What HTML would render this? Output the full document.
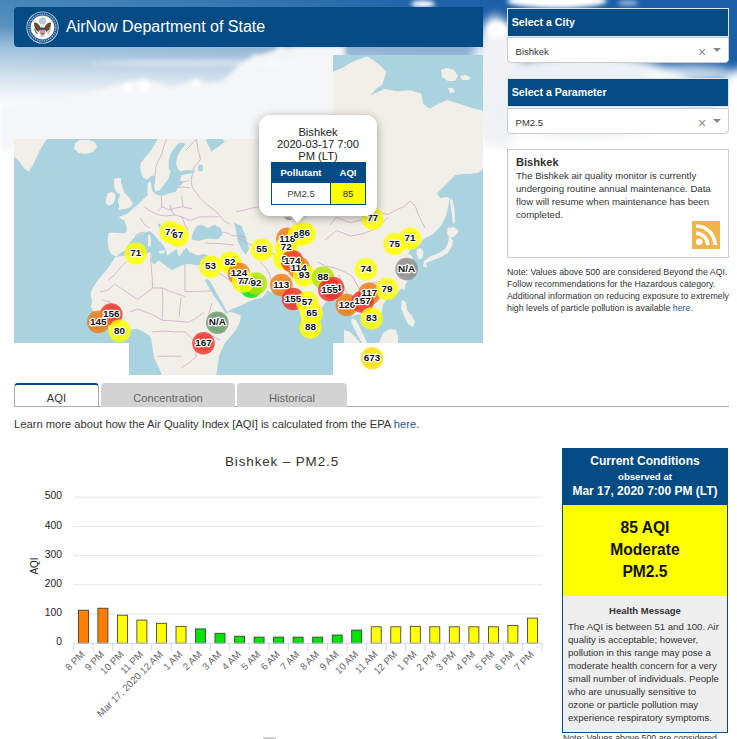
<!DOCTYPE html>
<html><head><meta charset="utf-8">
<style>
*{box-sizing:border-box;margin:0;padding:0}
html,body{width:737px;height:739px;overflow:hidden;background:#fff}
body{position:relative;font-family:"Liberation Sans",sans-serif;color:#333}
.abs{position:absolute}
#sky{position:absolute;left:0;top:0;width:737px;height:300px;
 background:linear-gradient(to bottom,#4a86b9 0px,#5f93c2 30px,#8db2d8 55px,#c4d7ea 80px,#e9f0f8 105px,#fbfcfe 130px,#fff 150px)}
.cloud{position:absolute;border-radius:50%;background:#fff;filter:blur(6px)}
#hdr{left:14px;top:7px;width:469px;height:40px;background:#034b84;border-radius:4px 0 0 4px}
#hdr .t{position:absolute;left:52px;top:9.7px;font-size:16px;color:#fff;white-space:nowrap;line-height:20px}
.ph{position:absolute;left:507px;width:222px;height:29px;background:#034b84;border:1px solid #dde6ef;color:#fff;font-weight:bold;font-size:10.6px;padding:7.3px 0 0 3.8px;white-space:nowrap}
.sel{position:absolute;left:507px;width:222px;height:26px;background:#fff;border:1px solid #ccc;border-radius:0 0 4px 4px;font-size:9.5px;color:#333;padding:7.8px 0 0 7.6px}
.sel .x{position:absolute;left:190px;top:5.5px;font-size:14px;line-height:16px;color:#8a8a8a}
.sel .ar{position:absolute;left:205px;top:10px;width:0;height:0;border-left:4px solid transparent;border-right:4px solid transparent;border-top:4px solid #888}
#info{left:507px;top:149px;width:222px;height:109px;background:#fff;border:1px solid #ccc;padding:6px 0 0 8px;font-size:9.6px;line-height:13px;color:#333}
#info b{font-size:11.1px;line-height:13px;display:block}
#rss{left:692px;top:221px;width:28px;height:28px;background:#efb44a;border-radius:1px}
#note{left:507px;top:266px;width:230px;font-size:8.8px;line-height:12px;color:#333}
a{color:#1f5a98;text-decoration:none}
.tab{position:absolute;top:383px;height:24px;background:#d3d3d3;border-radius:4px 4px 0 0;font-size:11.2px;color:#666;text-align:center;padding-top:8.5px}
#learn{left:14px;top:418px;font-size:11.2px;color:#333;white-space:nowrap}
#pop{left:259px;top:115px;width:118px;height:108px}
#pop .box{position:absolute;left:0;top:0;width:118px;height:101px;background:#fff;border-radius:11px;box-shadow:0 2px 10px rgba(0,0,0,.35)}
#pop .tipc{position:absolute;left:20px;top:101px;width:36px;height:10px;overflow:hidden}
#pop .tip{position:absolute;left:11px;top:-7px;width:14px;height:14px;background:#fff;transform:rotate(45deg);box-shadow:0 2px 10px rgba(0,0,0,.35)}
#pop .l1{position:absolute;left:0;top:11px;width:118px;text-align:center;font-size:11.2px;line-height:12.2px;color:#222}
#pop table{position:absolute;left:12px;top:47px;width:95px;border-collapse:collapse;font-size:9.6px}
#pop th{background:#034b84;color:#fff;height:20px;border:1px solid #034b84;font-weight:bold}
#pop td{height:22px;border:1px solid #034b84;text-align:center;color:#444;background:#fff}
#cc{left:562px;top:448px;width:166px;height:285px;border:1px solid #034b84;background:#eee}
#cc .top{position:absolute;left:0;top:0;width:164px;height:56px;background:#034b84;color:#fff;text-align:center;font-weight:bold}
#cc .yel{position:absolute;left:0;top:56px;width:164px;height:91px;background:#ffff00;color:#111;text-align:center;font-weight:bold;font-size:15.6px;line-height:22px;padding-top:12px}
#cc .hm{position:absolute;left:0;top:147px;width:164px;padding:8px 5px 0 5px;font-size:9.6px;line-height:13px;color:#333}
</style></head><body>
<svg class="abs" style="left:0;top:0" width="737" height="260" viewBox="0 0 737 260">
<defs>
<linearGradient id="sk" x1="0" y1="0" x2="1" y2="0"><stop offset="0" stop-color="#4686b8"/><stop offset=".35" stop-color="#3374b0"/><stop offset=".6" stop-color="#1c60a8"/><stop offset="1" stop-color="#1a5ea7"/></linearGradient>
<linearGradient id="fw" x1="0" y1="0" x2="0" y2="1"><stop offset="0" stop-color="#fff" stop-opacity="0"/><stop offset=".1" stop-color="#fff" stop-opacity="0.1"/><stop offset=".18" stop-color="#fff" stop-opacity="0.47"/><stop offset=".27" stop-color="#fff" stop-opacity="0.7"/><stop offset=".35" stop-color="#fff" stop-opacity="0.88"/><stop offset=".42" stop-color="#fff" stop-opacity="1"/></linearGradient>
<linearGradient id="fw2" x1="0" y1="0" x2="0" y2="1"><stop offset="0" stop-color="#fff" stop-opacity="0"/><stop offset=".3" stop-color="#fff" stop-opacity="0"/><stop offset=".42" stop-color="#fff" stop-opacity="0.85"/><stop offset=".5" stop-color="#fff" stop-opacity="1"/></linearGradient>
<filter id="bl" x="-50%" y="-50%" width="200%" height="200%"><feGaussianBlur stdDeviation="5"/></filter>
<filter id="bl2" x="-50%" y="-50%" width="200%" height="200%"><feGaussianBlur stdDeviation="2"/></filter>
</defs>
<rect x="0" y="0" width="737" height="260" fill="url(#sk)"/>
<rect x="0" y="0" width="480" height="260" fill="url(#fw)"/>
<rect x="480" y="0" width="257" height="260" fill="url(#fw2)"/>
<g filter="url(#bl2)" fill="#fff">
<path fill="#f5f6f8" d="M0 106 L14 103 L57 99 L101 90 L127 82 L144 79.6 L160 84 L170 88 L185 84 L196 79.6 L205 84 L222 82 L232 72 L240 64 L257 56 L279 49 L300 46 L345 46 L345 150 L0 150 Z"/>
<circle cx="144" cy="85" r="6"/><circle cx="128" cy="87" r="5"/><circle cx="196" cy="83" r="4"/><circle cx="257" cy="63" r="9" fill="#f3f4f6"/><circle cx="282" cy="55" r="9" fill="#f3f4f6"/>
<ellipse cx="200" cy="63" rx="110" ry="3.5" fill-opacity="0.35"/>
</g>
<g filter="url(#bl)" fill="#fff">
<ellipse cx="497" cy="84" rx="26" ry="62" fill="#f0f2f5"/>
<rect x="481" y="22" width="34" height="125" rx="10" fill="#eff2f5"/>
<ellipse cx="585" cy="96" rx="110" ry="42" fill="#eef1f4"/>
<ellipse cx="748" cy="125" rx="35" ry="58"/>
<ellipse cx="690" cy="74" rx="45" ry="9" fill-opacity="0.75"/>
<ellipse cx="495" cy="60" rx="18" ry="45" fill="#f0f2f5"/>
</g>
<g filter="url(#bl2)" fill="#fff">
<ellipse cx="423" cy="4" rx="12" ry="3.5"/>
<ellipse cx="557" cy="1" rx="50" ry="7"/>
<ellipse cx="628" cy="3" rx="10" ry="2.5" fill-opacity="0.6"/>
<ellipse cx="497" cy="30" rx="10" ry="8"/>
</g>
</svg>
<svg class="abs" style="left:0;top:0" width="737" height="739" viewBox="0 0 737 739">
<defs><clipPath id="tc"><rect x="14" y="139" width="115" height="204"/><rect x="129" y="139" width="204" height="236"/><rect x="333" y="55" width="150" height="288"/></clipPath></defs>
<g clip-path="url(#tc)">
<rect x="0" y="0" width="737" height="400" fill="#f2efe9"/>
<path d="M47.0 139.0 L157.8 139.0 L151.7 149.6 L144.9 157.7 L140.9 163.1 L140.2 167.2 L141.5 174.0 L143.6 178.1 L147.0 179.4 L150.4 176.7 L152.4 175.3 L154.4 176.7 L153.7 182.0 L154.4 187.6 L155.5 191.5 L153.0 192.5 L151.5 188.0 L151.0 183.0 L149.5 181.5 L148.0 183.0 L147.5 188.0 L147.6 194.3 L148.0 195.2 L144.0 198.5 L138.3 204.2 L134.2 207.5 L126.9 214.0 L119.5 216.4 L119.5 218.0 L124.4 220.5 L126.1 225.4 L126.9 230.0 L125.0 233.3 L118.0 233.0 L112.0 232.8 L108.7 232.8 L107.6 240.4 L108.7 249.1 L110.9 253.4 L114.1 255.6 L116.3 256.7 L115.0 257.5 L108.4 267.7 L98.7 279.0 L92.2 288.8 L90.5 293.7 L92.2 301.9 L90.5 306.8 L93.8 311.6 L98.7 318.1 L105.2 324.7 L111.7 331.2 L117.0 334.0 L122.0 333.0 L129.0 330.0 L136.3 328.8 L142.0 331.0 L149.3 335.4 L151.0 338.6 L152.6 348.4 L154.2 358.2 L159.0 368.0 L162.3 376.0 L14.0 376.0 L14.0 157.0 L18.0 160.0 L24.0 168.0 L28.7 171.6 L33.0 165.0 L40.0 150.0Z" fill="#aad3df" />
<path d="M116.3 256.7 L119.5 253.4 L125.0 250.2 L128.2 244.7 L132.6 239.3 L135.8 236.0 L139.1 234.4 L143.4 233.3 L146.7 231.7 L150.0 231.2 L154.3 235.0 L158.6 240.4 L163.0 244.7 L165.1 248.0 L166.2 251.3 L167.0 255.6 L171.9 252.3 L176.8 249.0 L178.4 255.6 L180.0 256.0 L183.3 250.7 L186.5 247.4 L189.8 252.3 L197.9 255.6 L204.4 254.0 L207.7 255.6 L206.0 258.8 L204.4 263.7 L197.9 265.4 L188.2 263.7 L181.6 265.4 L171.9 270.2 L165.4 265.4 L158.8 260.5 L154.3 264.3 L151.0 261.0 L152.1 255.6 L150.0 252.3 L146.7 253.4 L135.8 255.6 L126.0 255.6 L117.4 256.7Z" fill="#aad3df" />
<path d="M157.5 223.5 L160.0 224.0 L163.0 229.0 L167.0 234.0 L172.0 239.0 L176.0 244.0 L174.0 246.0 L170.4 241.7 L165.0 236.3 L160.9 230.9 L158.2 225.0Z" fill="#aad3df" />
<path d="M191.4 239.3 L193.0 232.8 L196.3 226.3 L201.2 224.7 L207.7 227.9 L214.2 224.7 L220.7 227.9 L222.3 234.4 L217.5 239.3 L207.7 238.5 L197.9 240.9Z" fill="#aad3df" />
<path d="M234.0 222.4 L241.6 226.2 L245.4 235.7 L249.2 249.0 L245.4 254.7 L241.6 249.0 L237.8 241.4 L235.9 230.0Z" fill="#aad3df" />
<path d="M177.5 144.1 L170.7 153.6 L168.7 160.4 L168.7 168.6 L170.7 171.3 L168.0 179.4 L163.9 184.8 L159.9 190.3 L155.8 191.6 L154.0 193.0 L157.0 195.0 L162.6 195.7 L170.7 193.0 L176.1 191.6 L177.5 187.6 L181.6 184.8 L182.9 182.1 L180.2 180.8 L181.6 175.3 L187.0 174.0 L193.8 173.3 L195.1 170.6 L187.0 170.0 L180.2 171.3 L177.5 168.6 L176.1 163.1 L177.5 156.4 L180.2 150.9 L185.6 144.1 L182.0 142.5Z" fill="#aad3df" />
<path d="M206.0 139.0 L222.3 139.0 L225.0 141.4 L218.2 146.9 L214.1 149.6 L211.4 152.3 L210.0 148.2 L207.3 144.1Z" fill="#aad3df" />
<path d="M207.0 279.0 L210.0 281.0 L216.0 292.0 L222.0 302.0 L226.0 310.0 L228.0 313.0 L226.0 314.0 L221.0 306.0 L214.0 296.0 L208.0 286.0 L205.0 280.0Z" fill="#aad3df" />
<path d="M238.0 272.0 L244.0 276.0 L250.0 281.0 L256.0 285.0 L261.0 289.0 L255.0 290.0 L250.0 288.0 L244.0 283.0 L239.0 278.0Z" fill="#aad3df" />
<path d="M216.0 380.0 L216.3 374.5 L217.7 364.7 L219.3 354.9 L224.4 344.0 L230.0 337.0 L236.0 330.0 L240.0 322.0 L240.7 315.5 L236.0 313.5 L230.5 312.0 L226.0 313.0 L232.0 309.0 L240.0 306.0 L249.4 301.3 L257.0 299.0 L262.7 297.5 L266.0 293.0 L267.0 290.0 L270.0 292.0 L276.0 292.5 L282.0 293.0 L286.0 294.0 L289.3 295.6 L294.0 300.0 L298.8 307.0 L300.5 315.0 L302.6 322.2 L306.4 333.6 L310.0 338.5 L313.0 337.0 L316.0 328.0 L319.0 318.0 L322.0 307.3 L326.0 302.0 L330.0 299.0 L336.0 300.0 L342.0 302.0 L347.0 306.0 L350.0 311.0 L352.0 316.0 L356.0 315.0 L360.0 314.0 L364.0 318.0 L368.0 322.0 L372.0 324.0 L378.0 320.0 L382.0 312.0 L383.0 305.0 L386.0 300.0 L392.0 296.0 L397.0 293.0 L401.0 289.0 L405.0 284.4 L409.0 279.0 L411.3 274.0 L413.0 266.0 L413.4 261.3 L412.0 256.0 L408.0 253.0 L411.0 249.0 L415.0 247.0 L419.6 245.0 L422.8 239.7 L427.5 236.8 L433.2 234.0 L438.0 229.2 L441.8 224.5 L446.1 215.4 L448.4 206.1 L449.6 198.1 L446.1 196.9 L440.4 198.1 L436.9 193.4 L439.2 191.1 L446.1 184.2 L450.7 179.6 L455.4 175.0 L464.6 173.8 L471.5 173.8 L478.4 172.7 L482.5 169.2 L490.0 169.0 L490.0 380.0Z" fill="#aad3df" />
<path d="M333.0 55.0 L483.0 55.0 L483.0 110.8 L473.3 108.6 L460.0 104.0 L447.2 100.0 L438.0 104.0 L429.9 108.6 L423.4 104.3 L421.2 93.4 L410.3 90.2 L397.3 91.2 L384.3 89.1 L370.2 95.6 L376.0 89.0 L382.1 84.7 L386.4 71.7 L380.0 65.2 L373.0 60.0 L366.9 56.5 L360.4 58.7 L352.0 62.0 L343.0 67.4 L333.0 71.7Z" fill="#aad3df" />
<path d="M148.0 235.0 L150.0 234.5 L151.0 240.0 L150.5 246.5 L148.0 246.5 L147.8 240.0Z" fill="#f2efe9" />
<path d="M158.6 251.0 L165.0 250.0 L164.0 253.4 L160.0 253.4Z" fill="#f2efe9" />
<path d="M75.0 143.0 L80.0 140.0 L88.0 140.0 L95.0 142.0 L97.0 147.0 L93.0 152.0 L86.0 154.0 L79.0 153.0 L74.0 149.0Z" fill="#f2efe9" />
<path d="M114.0 179.0 L118.0 177.8 L121.2 178.5 L121.0 182.0 L122.0 186.0 L124.4 192.8 L129.3 197.7 L131.8 201.8 L132.6 204.2 L130.1 207.5 L124.4 209.1 L117.9 209.9 L119.5 207.0 L118.5 203.5 L117.9 200.9 L119.5 196.9 L120.4 194.4 L117.1 192.8 L115.5 190.4 L113.8 186.3 L114.5 182.0Z" fill="#f2efe9" />
<path d="M108.0 193.0 L112.0 192.0 L115.5 194.0 L115.0 199.0 L113.0 204.0 L108.0 205.8 L105.7 203.0 L106.5 197.0Z" fill="#f2efe9" />
<path d="M352.0 318.0 L356.0 320.0 L360.0 328.0 L364.0 336.0 L367.0 343.0 L362.0 343.0 L358.0 336.0 L354.0 328.0 L351.0 322.0Z" fill="#f2efe9" />
<path d="M344.0 330.0 L350.0 332.0 L356.0 338.0 L360.0 343.0 L344.0 343.0Z" fill="#f2efe9" />
<path d="M379.0 343.0 L383.0 333.0 L390.0 329.0 L396.0 330.0 L398.0 336.0 L398.0 343.0Z" fill="#f2efe9" />
<path d="M402.0 300.0 L406.0 302.0 L407.0 310.0 L412.0 316.0 L415.0 322.0 L413.0 327.0 L408.0 324.0 L404.0 316.0 L401.0 308.0Z" fill="#f2efe9" />
<path d="M403.0 283.0 L405.5 284.0 L404.5 290.0 L402.0 289.0Z" fill="#f2efe9" />
<path d="M449.0 237.0 L453.0 240.0 L452.0 246.0 L448.0 253.0 L441.0 257.0 L433.0 260.0 L426.0 263.0 L427.0 268.0 L423.0 266.0 L424.0 261.0 L431.0 256.0 L439.0 253.0 L445.0 249.0 L448.0 243.0Z" fill="#f2efe9" />
<path d="M447.5 228.0 L454.0 227.0 L459.0 231.0 L455.0 236.0 L450.0 238.0 L447.0 234.0Z" fill="#f2efe9" />
<path d="M417.0 249.0 L421.0 248.0 L423.5 252.0 L422.5 258.0 L419.0 259.6 L416.5 254.0Z" fill="#f2efe9" />
<path d="M450.7 198.0 L452.5 200.0 L454.5 210.0 L455.0 222.0 L453.0 224.0 L451.5 212.0 L450.0 202.0Z" fill="#f2efe9" />
<path d="M441.0 70.0 L447.0 68.0 L454.0 70.0 L458.0 76.0 L455.0 81.0 L448.0 81.0 L442.0 77.0Z" fill="#f2efe9" />
<path d="M460.0 76.0 L466.0 75.0 L471.0 78.0 L468.0 80.0 L462.0 80.0Z" fill="#f2efe9" />
<path d="M448.0 88.0 L453.0 88.0 L455.0 92.0 L450.0 93.0Z" fill="#f2efe9" />
<ellipse cx="200.5" cy="168" rx="2.5" ry="3.5" fill="#aad3df"/>
<g fill="none" stroke="#c6a3c8" stroke-width="0.8" stroke-opacity="0.9" stroke-linejoin="round">
<path d="M108.0 280.4 L114.7 274.7 L120.0 268.0 L126.0 261.4"/>
<path d="M100.0 292.0 L108.0 290.0 L114.7 284.2 L125.0 291.0 L137.5 299.4 L145.0 294.0 L152.7 288.0 L162.2 288.0"/>
<path d="M150.8 254.0 L150.8 261.4 L152.0 275.0 L152.7 288.0"/>
<path d="M185.0 265.0 L185.0 280.0 L185.0 291.8"/>
<path d="M185.0 291.8 L200.0 291.3 L211.6 290.8"/>
<path d="M162.2 288.0 L172.0 292.0 L185.0 296.5"/>
<path d="M181.2 297.5 L180.0 306.0 L179.3 316.5"/>
<path d="M130.0 312.0 L137.5 308.9 L145.0 312.0 L152.7 314.6 L162.2 320.3"/>
<path d="M162.2 320.3 L175.0 321.0 L188.8 322.2 L196.0 318.0 L204.0 312.7"/>
<path d="M152.0 331.7 L165.0 331.0 L175.0 332.0 L185.0 331.7 L194.5 341.2 L196.4 356.4 L190.0 362.0 L181.2 367.8"/>
<path d="M158.4 356.4 L170.0 356.0 L181.2 356.4"/>
<path d="M211.6 303.2 L210.0 310.0 L207.8 318.4 L215.0 330.0 L225.0 332.0"/>
<path d="M162.2 288.0 L163.0 300.0 L162.2 320.3"/>
<path d="M102.0 300.0 L110.0 302.0 L116.0 310.0 L122.0 318.0"/>
<path d="M196.4 340.0 L205.0 334.0 L212.0 336.0 L220.0 340.0"/>
<path d="M166.5 139.2 L164.0 146.0 L161.8 154.0 L158.0 161.0 L156.1 167.3 L155.0 175.0 L154.2 184.4"/>
<path d="M196.0 139.2 L190.0 146.0 L186.0 150.0"/>
<path d="M196.5 139.0 L197.8 149.6 L200.6 159.0 L196.0 165.0 L192.4 170.0"/>
<path d="M192.4 174.0 L191.0 180.8 L192.4 187.6 L200.6 198.4 L206.0 203.8 L216.8 212.0 L224.0 221.0 L230.2 224.3"/>
<path d="M161.2 195.7 L161.9 206.6 L158.0 211.0"/>
<path d="M161.9 206.6 L169.0 210.0 L176.0 208.0 L183.0 206.6"/>
<path d="M181.6 195.7 L183.0 206.6 L192.2 209.1"/>
<path d="M177.5 187.6 L183.0 187.0 L189.7 187.6"/>
<path d="M180.2 182.0 L185.0 181.5 L188.3 180.8"/>
<path d="M144.7 207.2 L150.0 211.0 L158.0 214.8 L166.0 216.0 L175.1 214.8 L182.0 217.0 L190.3 220.5 L199.8 216.7 L210.0 217.0 L218.8 216.7"/>
<path d="M135.2 235.7 L140.0 233.0 L144.7 231.9"/>
<path d="M140.0 218.0 L145.0 225.0 L150.0 228.0"/>
<path d="M170.0 205.0 L172.0 212.0 L175.1 214.8"/>
<path d="M182.0 217.0 L185.0 225.0 L188.0 230.0"/>
<path d="M205.0 243.0 L215.0 243.3 L225.0 244.0 L234.0 245.2"/>
<path d="M222.0 232.0 L228.0 233.0 L232.1 235.7 L240.0 236.0 L245.4 237.6"/>
<path d="M215.0 258.0 L222.0 262.0 L230.0 262.0 L238.0 268.0"/>
<path d="M213.0 270.0 L224.0 276.0 L233.0 283.0 L240.0 292.0 L250.0 297.0"/>
<path d="M236.3 211.7 L245.0 210.0 L252.0 208.0 L260.7 206.3"/>
<path d="M239.0 238.8 L247.0 243.0 L255.3 247.0 L262.0 250.0 L270.0 252.0"/>
<path d="M260.0 262.0 L266.0 268.0 L270.0 275.0 L272.0 285.0"/>
<path d="M270.0 252.0 L275.0 255.0 L280.0 262.0 L285.0 270.0"/>
<path d="M336.7 217.1 L343.0 220.0 L350.3 222.6 L361.1 219.9 L366.0 215.0 L372.0 211.7 L380.0 213.0 L388.2 214.4 L396.0 210.0 L404.5 206.3 L410.0 200.9 L415.4 206.3 L418.0 214.0 L422.0 222.0 L425.0 228.0"/>
<path d="M336.7 230.7 L343.0 233.0 L350.3 236.1 L363.8 233.4 L377.4 228.0 L388.2 217.1"/>
<path d="M330.0 225.0 L336.7 217.1"/>
<path d="M325.0 240.0 L336.7 230.7"/>
<path d="M318.0 262.0 L325.0 266.0 L335.0 268.0 L345.0 272.0 L352.0 276.0"/>
<path d="M352.0 276.0 L356.0 283.0 L360.0 290.0"/>
<path d="M339.0 275.0 L342.0 282.0 L345.0 290.0 L350.0 298.0"/>
<path d="M360.0 290.0 L366.0 285.0 L372.0 283.0 L380.0 282.0"/>
<path d="M355.0 300.0 L360.0 308.0 L362.0 314.0"/>
</g>
</g>
<g font-family="Liberation Sans" font-weight="bold" font-size="9.9" text-anchor="middle">
<circle cx="170.4" cy="232" r="11.3" fill="#ffff00" fill-opacity="0.78"/><circle cx="170.4" cy="232" r="9.3" fill="#ffff00" fill-opacity="0.35"/>
<circle cx="177.7" cy="235.6" r="11.3" fill="#ffff00" fill-opacity="0.78"/><circle cx="177.7" cy="235.6" r="9.3" fill="#ffff00" fill-opacity="0.35"/>
<circle cx="135.7" cy="253.5" r="11.3" fill="#ffff00" fill-opacity="0.78"/><circle cx="135.7" cy="253.5" r="9.3" fill="#ffff00" fill-opacity="0.35"/>
<circle cx="111.3" cy="314.5" r="11.3" fill="#ee3028" fill-opacity="0.78"/><circle cx="111.3" cy="314.5" r="9.3" fill="#ee3028" fill-opacity="0.35"/>
<circle cx="98.3" cy="321.9" r="11.3" fill="#f07a10" fill-opacity="0.78"/><circle cx="98.3" cy="321.9" r="9.3" fill="#f07a10" fill-opacity="0.35"/>
<circle cx="119.6" cy="330.9" r="11.3" fill="#ffff00" fill-opacity="0.78"/><circle cx="119.6" cy="330.9" r="9.3" fill="#ffff00" fill-opacity="0.35"/>
<circle cx="217.3" cy="322.7" r="11.3" fill="#6a9a6a" fill-opacity="0.78"/><circle cx="217.3" cy="322.7" r="9.3" fill="#6a9a6a" fill-opacity="0.35"/>
<circle cx="203.5" cy="343.2" r="11.3" fill="#ee3028" fill-opacity="0.78"/><circle cx="203.5" cy="343.2" r="9.3" fill="#ee3028" fill-opacity="0.35"/>
<circle cx="210.5" cy="266.8" r="11.3" fill="#ffff00" fill-opacity="0.78"/><circle cx="210.5" cy="266.8" r="9.3" fill="#ffff00" fill-opacity="0.35"/>
<circle cx="230.1" cy="262.7" r="11.3" fill="#ffff00" fill-opacity="0.78"/><circle cx="230.1" cy="262.7" r="9.3" fill="#ffff00" fill-opacity="0.35"/>
<circle cx="238.9" cy="273.8" r="11.3" fill="#f07a10" fill-opacity="0.78"/><circle cx="238.9" cy="273.8" r="9.3" fill="#f07a10" fill-opacity="0.35"/>
<circle cx="251.2" cy="286.8" r="11.3" fill="#00e400" fill-opacity="0.78"/><circle cx="251.2" cy="286.8" r="9.3" fill="#00e400" fill-opacity="0.35"/>
<circle cx="256" cy="283.6" r="11.3" fill="#b4e400" fill-opacity="0.78"/><circle cx="256" cy="283.6" r="9.3" fill="#b4e400" fill-opacity="0.35"/>
<circle cx="243.2" cy="281.4" r="11.3" fill="#ffff00" fill-opacity="0.78"/><circle cx="243.2" cy="281.4" r="9.3" fill="#ffff00" fill-opacity="0.35"/>
<circle cx="261.8" cy="249.8" r="11.3" fill="#ffff00" fill-opacity="0.78"/><circle cx="261.8" cy="249.8" r="9.3" fill="#ffff00" fill-opacity="0.35"/>
<circle cx="287.3" cy="238.9" r="11.3" fill="#f07a10" fill-opacity="0.78"/><circle cx="287.3" cy="238.9" r="9.3" fill="#f07a10" fill-opacity="0.35"/>
<circle cx="299" cy="235" r="11.3" fill="#ffff00" fill-opacity="0.78"/><circle cx="299" cy="235" r="9.3" fill="#ffff00" fill-opacity="0.35"/>
<circle cx="304.6" cy="233.5" r="11.3" fill="#ffff00" fill-opacity="0.78"/><circle cx="304.6" cy="233.5" r="9.3" fill="#ffff00" fill-opacity="0.35"/>
<circle cx="286.3" cy="247.4" r="11.3" fill="#ffff00" fill-opacity="0.78"/><circle cx="286.3" cy="247.4" r="9.3" fill="#ffff00" fill-opacity="0.35"/>
<circle cx="284.3" cy="259" r="11.3" fill="#ffff00" fill-opacity="0.78"/><circle cx="284.3" cy="259" r="9.3" fill="#ffff00" fill-opacity="0.35"/>
<circle cx="292.3" cy="261.2" r="11.3" fill="#ee3028" fill-opacity="0.78"/><circle cx="292.3" cy="261.2" r="9.3" fill="#ee3028" fill-opacity="0.35"/>
<circle cx="298.8" cy="268" r="11.3" fill="#f07a10" fill-opacity="0.78"/><circle cx="298.8" cy="268" r="9.3" fill="#f07a10" fill-opacity="0.35"/>
<circle cx="304.2" cy="275.6" r="11.3" fill="#ffff00" fill-opacity="0.78"/><circle cx="304.2" cy="275.6" r="9.3" fill="#ffff00" fill-opacity="0.35"/>
<circle cx="281.3" cy="285.1" r="11.3" fill="#f07a10" fill-opacity="0.78"/><circle cx="281.3" cy="285.1" r="9.3" fill="#f07a10" fill-opacity="0.35"/>
<circle cx="323.1" cy="277.8" r="11.3" fill="#b4e400" fill-opacity="0.78"/><circle cx="323.1" cy="277.8" r="9.3" fill="#b4e400" fill-opacity="0.35"/>
<circle cx="333" cy="288" r="11.3" fill="#ee3028" fill-opacity="0.78"/><circle cx="333" cy="288" r="9.3" fill="#ee3028" fill-opacity="0.35"/>
<circle cx="329.4" cy="290" r="11.3" fill="#ee3028" fill-opacity="0.78"/><circle cx="329.4" cy="290" r="9.3" fill="#ee3028" fill-opacity="0.35"/>
<circle cx="293.1" cy="299" r="11.3" fill="#ee3028" fill-opacity="0.78"/><circle cx="293.1" cy="299" r="9.3" fill="#ee3028" fill-opacity="0.35"/>
<circle cx="307.3" cy="302.4" r="11.3" fill="#ffff00" fill-opacity="0.78"/><circle cx="307.3" cy="302.4" r="9.3" fill="#ffff00" fill-opacity="0.35"/>
<circle cx="311.7" cy="313.6" r="11.3" fill="#ffff00" fill-opacity="0.78"/><circle cx="311.7" cy="313.6" r="9.3" fill="#ffff00" fill-opacity="0.35"/>
<circle cx="310.5" cy="327.6" r="11.3" fill="#ffff00" fill-opacity="0.78"/><circle cx="310.5" cy="327.6" r="9.3" fill="#ffff00" fill-opacity="0.35"/>
<circle cx="346.9" cy="305" r="11.3" fill="#f07a10" fill-opacity="0.78"/><circle cx="346.9" cy="305" r="9.3" fill="#f07a10" fill-opacity="0.35"/>
<circle cx="369.3" cy="293.8" r="11.3" fill="#f07a10" fill-opacity="0.78"/><circle cx="369.3" cy="293.8" r="9.3" fill="#f07a10" fill-opacity="0.35"/>
<circle cx="362.6" cy="301.7" r="11.3" fill="#ee3028" fill-opacity="0.78"/><circle cx="362.6" cy="301.7" r="9.3" fill="#ee3028" fill-opacity="0.35"/>
<circle cx="387" cy="288.9" r="11.3" fill="#ffff00" fill-opacity="0.78"/><circle cx="387" cy="288.9" r="9.3" fill="#ffff00" fill-opacity="0.35"/>
<circle cx="371.6" cy="318.6" r="11.3" fill="#ffff00" fill-opacity="0.78"/><circle cx="371.6" cy="318.6" r="9.3" fill="#ffff00" fill-opacity="0.35"/>
<circle cx="366" cy="269.3" r="11.3" fill="#ffff00" fill-opacity="0.78"/><circle cx="366" cy="269.3" r="9.3" fill="#ffff00" fill-opacity="0.35"/>
<circle cx="406.6" cy="269.1" r="11.3" fill="#8a8a8a" fill-opacity="0.78"/><circle cx="406.6" cy="269.1" r="9.3" fill="#8a8a8a" fill-opacity="0.35"/>
<circle cx="394.6" cy="244" r="11.3" fill="#ffff00" fill-opacity="0.78"/><circle cx="394.6" cy="244" r="9.3" fill="#ffff00" fill-opacity="0.35"/>
<circle cx="410" cy="238.7" r="11.3" fill="#ffff00" fill-opacity="0.78"/><circle cx="410" cy="238.7" r="9.3" fill="#ffff00" fill-opacity="0.35"/>
<circle cx="372.7" cy="218.7" r="11.3" fill="#ffff00" fill-opacity="0.78"/><circle cx="372.7" cy="218.7" r="9.3" fill="#ffff00" fill-opacity="0.35"/>
<circle cx="372.1" cy="358.2" r="11.3" fill="#ffe000" fill-opacity="0.78"/><circle cx="372.1" cy="358.2" r="9.3" fill="#ffe000" fill-opacity="0.35"/>
<text x="170.4" y="234.6" stroke="#fff" stroke-width="2.4" stroke-linejoin="round" fill="#fff">74</text><text x="170.4" y="234.6" fill="#111">74</text>
<text x="177.7" y="238.2" stroke="#fff" stroke-width="2.4" stroke-linejoin="round" fill="#fff">67</text><text x="177.7" y="238.2" fill="#111">67</text>
<text x="135.7" y="256.1" stroke="#fff" stroke-width="2.4" stroke-linejoin="round" fill="#fff">71</text><text x="135.7" y="256.1" fill="#111">71</text>
<text x="111.3" y="317.1" stroke="#fff" stroke-width="2.4" stroke-linejoin="round" fill="#fff">156</text><text x="111.3" y="317.1" fill="#111">156</text>
<text x="98.3" y="324.5" stroke="#fff" stroke-width="2.4" stroke-linejoin="round" fill="#fff">145</text><text x="98.3" y="324.5" fill="#111">145</text>
<text x="119.6" y="333.5" stroke="#fff" stroke-width="2.4" stroke-linejoin="round" fill="#fff">80</text><text x="119.6" y="333.5" fill="#111">80</text>
<text x="217.3" y="325.3" stroke="#fff" stroke-width="2.4" stroke-linejoin="round" fill="#fff">N/A</text><text x="217.3" y="325.3" fill="#111">N/A</text>
<text x="203.5" y="345.8" stroke="#fff" stroke-width="2.4" stroke-linejoin="round" fill="#fff">167</text><text x="203.5" y="345.8" fill="#111">167</text>
<text x="210.5" y="269.40000000000003" stroke="#fff" stroke-width="2.4" stroke-linejoin="round" fill="#fff">53</text><text x="210.5" y="269.40000000000003" fill="#111">53</text>
<text x="230.1" y="265.3" stroke="#fff" stroke-width="2.4" stroke-linejoin="round" fill="#fff">82</text><text x="230.1" y="265.3" fill="#111">82</text>
<text x="238.9" y="276.40000000000003" stroke="#fff" stroke-width="2.4" stroke-linejoin="round" fill="#fff">124</text><text x="238.9" y="276.40000000000003" fill="#111">124</text>
<text x="246.6" y="284.0" stroke="#fff" stroke-width="2.4" stroke-linejoin="round" fill="#fff">N/A</text><text x="246.6" y="284.0" fill="#111">N/A</text>
<text x="256" y="286.20000000000005" stroke="#fff" stroke-width="2.4" stroke-linejoin="round" fill="#fff">92</text><text x="256" y="286.20000000000005" fill="#111">92</text>
<text x="243.2" y="284.0" stroke="#fff" stroke-width="2.4" stroke-linejoin="round" fill="#fff">77</text><text x="243.2" y="284.0" fill="#111">77</text>
<text x="261.8" y="252.4" stroke="#fff" stroke-width="2.4" stroke-linejoin="round" fill="#fff">55</text><text x="261.8" y="252.4" fill="#111">55</text>
<text x="287.3" y="241.5" stroke="#fff" stroke-width="2.4" stroke-linejoin="round" fill="#fff">118</text><text x="287.3" y="241.5" fill="#111">118</text>
<text x="299" y="237.6" stroke="#fff" stroke-width="2.4" stroke-linejoin="round" fill="#fff">88</text><text x="299" y="237.6" fill="#111">88</text>
<text x="304.6" y="236.1" stroke="#fff" stroke-width="2.4" stroke-linejoin="round" fill="#fff">86</text><text x="304.6" y="236.1" fill="#111">86</text>
<text x="286.3" y="250.0" stroke="#fff" stroke-width="2.4" stroke-linejoin="round" fill="#fff">72</text><text x="286.3" y="250.0" fill="#111">72</text>
<text x="284.3" y="261.6" stroke="#fff" stroke-width="2.4" stroke-linejoin="round" fill="#fff">9</text><text x="284.3" y="261.6" fill="#111">9</text>
<text x="292.3" y="263.8" stroke="#fff" stroke-width="2.4" stroke-linejoin="round" fill="#fff">174</text><text x="292.3" y="263.8" fill="#111">174</text>
<text x="298.8" y="270.6" stroke="#fff" stroke-width="2.4" stroke-linejoin="round" fill="#fff">114</text><text x="298.8" y="270.6" fill="#111">114</text>
<text x="304.2" y="278.20000000000005" stroke="#fff" stroke-width="2.4" stroke-linejoin="round" fill="#fff">93</text><text x="304.2" y="278.20000000000005" fill="#111">93</text>
<text x="281.3" y="287.70000000000005" stroke="#fff" stroke-width="2.4" stroke-linejoin="round" fill="#fff">113</text><text x="281.3" y="287.70000000000005" fill="#111">113</text>
<text x="323.1" y="280.40000000000003" stroke="#fff" stroke-width="2.4" stroke-linejoin="round" fill="#fff">88</text><text x="323.1" y="280.40000000000003" fill="#111">88</text>
<text x="333" y="290.6" stroke="#fff" stroke-width="2.4" stroke-linejoin="round" fill="#fff">154</text><text x="333" y="290.6" fill="#111">154</text>
<text x="329.4" y="292.6" stroke="#fff" stroke-width="2.4" stroke-linejoin="round" fill="#fff">155</text><text x="329.4" y="292.6" fill="#111">155</text>
<text x="293.1" y="301.6" stroke="#fff" stroke-width="2.4" stroke-linejoin="round" fill="#fff">155</text><text x="293.1" y="301.6" fill="#111">155</text>
<text x="307.3" y="305.0" stroke="#fff" stroke-width="2.4" stroke-linejoin="round" fill="#fff">57</text><text x="307.3" y="305.0" fill="#111">57</text>
<text x="311.7" y="316.20000000000005" stroke="#fff" stroke-width="2.4" stroke-linejoin="round" fill="#fff">65</text><text x="311.7" y="316.20000000000005" fill="#111">65</text>
<text x="310.5" y="330.20000000000005" stroke="#fff" stroke-width="2.4" stroke-linejoin="round" fill="#fff">88</text><text x="310.5" y="330.20000000000005" fill="#111">88</text>
<text x="346.9" y="307.6" stroke="#fff" stroke-width="2.4" stroke-linejoin="round" fill="#fff">120</text><text x="346.9" y="307.6" fill="#111">120</text>
<text x="369.3" y="296.40000000000003" stroke="#fff" stroke-width="2.4" stroke-linejoin="round" fill="#fff">117</text><text x="369.3" y="296.40000000000003" fill="#111">117</text>
<text x="362.6" y="304.3" stroke="#fff" stroke-width="2.4" stroke-linejoin="round" fill="#fff">157</text><text x="362.6" y="304.3" fill="#111">157</text>
<text x="387" y="291.5" stroke="#fff" stroke-width="2.4" stroke-linejoin="round" fill="#fff">79</text><text x="387" y="291.5" fill="#111">79</text>
<text x="371.6" y="321.20000000000005" stroke="#fff" stroke-width="2.4" stroke-linejoin="round" fill="#fff">83</text><text x="371.6" y="321.20000000000005" fill="#111">83</text>
<text x="366" y="271.90000000000003" stroke="#fff" stroke-width="2.4" stroke-linejoin="round" fill="#fff">74</text><text x="366" y="271.90000000000003" fill="#111">74</text>
<text x="406.6" y="271.70000000000005" stroke="#fff" stroke-width="2.4" stroke-linejoin="round" fill="#fff">N/A</text><text x="406.6" y="271.70000000000005" fill="#111">N/A</text>
<text x="394.6" y="246.6" stroke="#fff" stroke-width="2.4" stroke-linejoin="round" fill="#fff">75</text><text x="394.6" y="246.6" fill="#111">75</text>
<text x="410" y="241.29999999999998" stroke="#fff" stroke-width="2.4" stroke-linejoin="round" fill="#fff">71</text><text x="410" y="241.29999999999998" fill="#111">71</text>
<text x="372.7" y="221.29999999999998" stroke="#fff" stroke-width="2.4" stroke-linejoin="round" fill="#fff">77</text><text x="372.7" y="221.29999999999998" fill="#111">77</text>
<text x="372.1" y="360.8" stroke="#fff" stroke-width="2.4" stroke-linejoin="round" fill="#fff">673</text><text x="372.1" y="360.8" fill="#111">673</text>
</g>
</svg>

<div id="pop" class="abs">
 <div class="box">
  <div class="l1">Bishkek<br>2020-03-17 7:00<br>PM (LT)</div>
  <table><tr><th style="width:59px">Pollutant</th><th>AQI</th></tr><tr><td>PM2.5</td><td style="background:#ffff00;color:#222">85</td></tr></table>
 </div>
 <svg class="abs" style="left:25px;top:101px;overflow:visible" width="26" height="14" viewBox="0 0 26 14"><path d="M-0.5 1 L5 1 L8.5 4 L3 4Z" fill="#7a7a7a" opacity=".75"/></svg>
 <svg class="abs" style="left:25px;top:101px;overflow:hidden" width="26" height="14" viewBox="0 0 26 14"><path d="M4.5 -3 L22.5 -3 L13.5 7Z" fill="#fff" style="filter:drop-shadow(0 1.5px 2px rgba(0,0,0,.3))"/></svg>
</div>
<div id="hdr" class="abs">
 <svg class="abs" style="left:12px;top:4px" width="33" height="33" viewBox="-16.5 -16.5 33 33">
  <circle r="16.1" fill="#cfdccd"/>
  <circle r="15.3" fill="#1f5693"/>
  <circle r="13.4" fill="none" stroke="#a9c0d6" stroke-width="1.3" stroke-dasharray="1.2 1.1"/>
  <circle r="11.9" fill="#d9e3da"/>
  <circle r="11.2" fill="#fdfdfb"/>
  <circle cx="0" cy="-6.6" r="3.6" fill="#b9ccd4"/>
  <path d="M-8.5 -4.5 Q-6 -6 -3 -2 L-1.5 1 L-4 4.5 L-7 2 Q-8.5 -1 -8.5 -4.5Z" fill="#6b4a2c"/>
  <path d="M8.5 -4.5 Q6 -6 3 -2 L1.5 1 L4 4.5 L7 2 Q8.5 -1 8.5 -4.5Z" fill="#6b4a2c"/>
  <path d="M-2 -3 L2 -3 L2.5 0 L-2.5 0Z" fill="#f3ead6"/>
  <rect x="-2.6" y="0" width="5.2" height="2.4" fill="#2f4d8c"/>
  <path d="M-2.6 2.4 L2.6 2.4 L2.6 5 Q0 7.5 -2.6 5Z" fill="#e58b86"/>
  <path d="M-8.5 1 Q-8 5 -5 6.5 L-4.5 5.5 Q-7 4 -7.5 1Z" fill="#4e8a45"/>
  <path d="M8.3 1 Q8 5 5 6.5 L4.5 5.5 Q7 4 7.3 1Z" fill="#b9b1a8"/>
  <path d="M-4 4.5 L-1.5 7 L1.5 7 L4 4.5 L2 6 L-2 6Z" fill="#3a2a1c"/>
  <ellipse cx="0" cy="8.5" rx="2.5" ry="1" fill="#c9bfd3"/>
 </svg>
 <div class="t">AirNow Department of State</div>
</div>

<div class="ph" style="top:8px">Select a City</div>
<div class="sel" style="top:37px">Bishkek<span class="x">×</span><span class="ar"></span></div>
<div class="ph" style="top:78px">Select a Parameter</div>
<div class="sel" style="top:108px">PM2.5<span class="x">×</span><span class="ar"></span></div>

<div id="info" class="abs"><b>Bishkek</b>The Bishkek air quality monitor is currently undergoing routine annual maintenance. Data flow will resume when maintenance has been completed.</div>
<svg class="abs" style="left:692px;top:221px" width="28" height="28" viewBox="0 0 28 28"><rect width="28" height="28" fill="#efb44a"/><circle cx="7.2" cy="20.8" r="3.3" fill="#fff"/><path d="M4 12.2 A11.8 11.8 0 0 1 15.8 24" fill="none" stroke="#fff" stroke-width="3.6"/><path d="M4 5 A19 19 0 0 1 23 24" fill="none" stroke="#fff" stroke-width="3.6"/></svg>
<div id="note" class="abs">Note: Values above 500 are considered Beyond the AQI.<br>Follow recommendations for the Hazardous category.<br>Additional information on reducing exposure to extremely<br>high levels of particle pollution is available <a>here</a>.</div>

<!-- tabs -->
<div class="abs" style="left:14px;top:406px;width:715px;height:1px;background:#aaa"></div>
<div class="tab" style="left:14px;width:85px;background:#fff;border:1px solid #aaa;border-top:2px solid #034b84;border-bottom:1px solid #aaa;color:#333;padding-top:6.5px">AQI</div>
<div class="tab" style="left:101px;width:134px">Concentration</div>
<div class="tab" style="left:237px;width:110px">Historical</div>

<div id="learn" class="abs">Learn more about how the Air Quality Index [AQI] is calculated from the EPA <a>here</a>.</div>

<!-- chart -->
<svg class="abs" style="left:0;top:0" width="737" height="739" viewBox="0 0 737 739">
<text x="282" y="466.3" font-size="13.4" letter-spacing="0.9" fill="#333" text-anchor="middle" font-family="Liberation Sans">Bishkek – PM2.5</text>
<text x="62" y="645.4" font-size="10.3" fill="#222" text-anchor="end" font-family="Liberation Sans">0</text>
<rect x="73.6" y="613.5" width="468.6" height="1" fill="#e6e6e6"/>
<text x="62" y="616.2" font-size="10.3" fill="#222" text-anchor="end" font-family="Liberation Sans">100</text>
<rect x="73.6" y="584.3" width="468.6" height="1" fill="#e6e6e6"/>
<text x="62" y="587.0" font-size="10.3" fill="#222" text-anchor="end" font-family="Liberation Sans">200</text>
<rect x="73.6" y="555.1" width="468.6" height="1" fill="#e6e6e6"/>
<text x="62" y="557.8" font-size="10.3" fill="#222" text-anchor="end" font-family="Liberation Sans">300</text>
<rect x="73.6" y="525.9" width="468.6" height="1" fill="#e6e6e6"/>
<text x="62" y="528.6" font-size="10.3" fill="#222" text-anchor="end" font-family="Liberation Sans">400</text>
<rect x="73.6" y="496.7" width="468.6" height="1" fill="#e6e6e6"/>
<text x="62" y="499.4" font-size="10.3" fill="#222" text-anchor="end" font-family="Liberation Sans">500</text>
<text transform="translate(37.5,566) rotate(-90)" font-size="10" fill="#222" text-anchor="middle" font-family="Liberation Sans">AQI</text>
<rect x="78.4" y="610.2" width="10" height="33.0" fill="#ff7e00" stroke="#333" stroke-width="0.8"/>
<rect x="97.9" y="608.2" width="10" height="35.0" fill="#ff7e00" stroke="#333" stroke-width="0.8"/>
<rect x="117.4" y="615.2" width="10" height="28.0" fill="#ffff00" stroke="#333" stroke-width="0.8"/>
<rect x="136.9" y="620.1" width="10" height="23.1" fill="#ffff00" stroke="#333" stroke-width="0.8"/>
<rect x="156.5" y="623.3" width="10" height="19.9" fill="#ffff00" stroke="#333" stroke-width="0.8"/>
<rect x="176.0" y="626.3" width="10" height="16.9" fill="#ffff00" stroke="#333" stroke-width="0.8"/>
<rect x="195.5" y="628.9" width="10" height="14.3" fill="#00e400" stroke="#333" stroke-width="0.8"/>
<rect x="215.0" y="633.3" width="10" height="9.9" fill="#00e400" stroke="#333" stroke-width="0.8"/>
<rect x="234.6" y="636.2" width="10" height="7.0" fill="#00e400" stroke="#333" stroke-width="0.8"/>
<rect x="254.1" y="637.1" width="10" height="6.1" fill="#00e400" stroke="#333" stroke-width="0.8"/>
<rect x="273.6" y="637.1" width="10" height="6.1" fill="#00e400" stroke="#333" stroke-width="0.8"/>
<rect x="293.1" y="637.1" width="10" height="6.1" fill="#00e400" stroke="#333" stroke-width="0.8"/>
<rect x="312.7" y="637.1" width="10" height="6.1" fill="#00e400" stroke="#333" stroke-width="0.8"/>
<rect x="332.2" y="635.0" width="10" height="8.2" fill="#00e400" stroke="#333" stroke-width="0.8"/>
<rect x="351.7" y="630.1" width="10" height="13.1" fill="#00e400" stroke="#333" stroke-width="0.8"/>
<rect x="371.2" y="626.8" width="10" height="16.4" fill="#ffff00" stroke="#333" stroke-width="0.8"/>
<rect x="390.8" y="626.8" width="10" height="16.4" fill="#ffff00" stroke="#333" stroke-width="0.8"/>
<rect x="410.3" y="626.3" width="10" height="16.9" fill="#ffff00" stroke="#333" stroke-width="0.8"/>
<rect x="429.8" y="626.8" width="10" height="16.4" fill="#ffff00" stroke="#333" stroke-width="0.8"/>
<rect x="449.3" y="626.8" width="10" height="16.4" fill="#ffff00" stroke="#333" stroke-width="0.8"/>
<rect x="468.9" y="626.8" width="10" height="16.4" fill="#ffff00" stroke="#333" stroke-width="0.8"/>
<rect x="488.4" y="626.8" width="10" height="16.4" fill="#ffff00" stroke="#333" stroke-width="0.8"/>
<rect x="507.9" y="625.4" width="10" height="17.8" fill="#ffff00" stroke="#333" stroke-width="0.8"/>
<rect x="527.4" y="618.1" width="10" height="25.1" fill="#ffff00" stroke="#333" stroke-width="0.8"/>
<rect x="73.6" y="642.7" width="468.6" height="1" fill="#ccd6eb"/>
<rect x="73.1" y="643.2" width="1" height="8" fill="#ccd6eb"/>
<rect x="92.6" y="643.2" width="1" height="8" fill="#ccd6eb"/>
<rect x="112.2" y="643.2" width="1" height="8" fill="#ccd6eb"/>
<rect x="131.7" y="643.2" width="1" height="8" fill="#ccd6eb"/>
<rect x="151.2" y="643.2" width="1" height="8" fill="#ccd6eb"/>
<rect x="170.7" y="643.2" width="1" height="8" fill="#ccd6eb"/>
<rect x="190.2" y="643.2" width="1" height="8" fill="#ccd6eb"/>
<rect x="209.8" y="643.2" width="1" height="8" fill="#ccd6eb"/>
<rect x="229.3" y="643.2" width="1" height="8" fill="#ccd6eb"/>
<rect x="248.8" y="643.2" width="1" height="8" fill="#ccd6eb"/>
<rect x="268.4" y="643.2" width="1" height="8" fill="#ccd6eb"/>
<rect x="287.9" y="643.2" width="1" height="8" fill="#ccd6eb"/>
<rect x="307.4" y="643.2" width="1" height="8" fill="#ccd6eb"/>
<rect x="326.9" y="643.2" width="1" height="8" fill="#ccd6eb"/>
<rect x="346.5" y="643.2" width="1" height="8" fill="#ccd6eb"/>
<rect x="366.0" y="643.2" width="1" height="8" fill="#ccd6eb"/>
<rect x="385.5" y="643.2" width="1" height="8" fill="#ccd6eb"/>
<rect x="405.0" y="643.2" width="1" height="8" fill="#ccd6eb"/>
<rect x="424.6" y="643.2" width="1" height="8" fill="#ccd6eb"/>
<rect x="444.1" y="643.2" width="1" height="8" fill="#ccd6eb"/>
<rect x="463.6" y="643.2" width="1" height="8" fill="#ccd6eb"/>
<rect x="483.1" y="643.2" width="1" height="8" fill="#ccd6eb"/>
<rect x="502.7" y="643.2" width="1" height="8" fill="#ccd6eb"/>
<rect x="522.2" y="643.2" width="1" height="8" fill="#ccd6eb"/>
<rect x="541.7" y="643.2" width="1" height="8" fill="#ccd6eb"/>
<text transform="translate(85.4,655.0) rotate(-45)" font-size="9.8" fill="#666" text-anchor="end" font-family="Liberation Sans">8 PM</text>
<text transform="translate(104.9,655.0) rotate(-45)" font-size="9.8" fill="#666" text-anchor="end" font-family="Liberation Sans">9 PM</text>
<text transform="translate(124.4,655.0) rotate(-45)" font-size="9.8" fill="#666" text-anchor="end" font-family="Liberation Sans">10 PM</text>
<text transform="translate(143.9,655.0) rotate(-45)" font-size="9.8" fill="#666" text-anchor="end" font-family="Liberation Sans">11 PM</text>
<text transform="translate(163.5,655.0) rotate(-45)" font-size="9.8" fill="#666" text-anchor="end" font-family="Liberation Sans">Mar 17, 2020 12 AM</text>
<text transform="translate(183.0,655.0) rotate(-45)" font-size="9.8" fill="#666" text-anchor="end" font-family="Liberation Sans">1 AM</text>
<text transform="translate(202.5,655.0) rotate(-45)" font-size="9.8" fill="#666" text-anchor="end" font-family="Liberation Sans">2 AM</text>
<text transform="translate(222.0,655.0) rotate(-45)" font-size="9.8" fill="#666" text-anchor="end" font-family="Liberation Sans">3 AM</text>
<text transform="translate(241.6,655.0) rotate(-45)" font-size="9.8" fill="#666" text-anchor="end" font-family="Liberation Sans">4 AM</text>
<text transform="translate(261.1,655.0) rotate(-45)" font-size="9.8" fill="#666" text-anchor="end" font-family="Liberation Sans">5 AM</text>
<text transform="translate(280.6,655.0) rotate(-45)" font-size="9.8" fill="#666" text-anchor="end" font-family="Liberation Sans">6 AM</text>
<text transform="translate(300.1,655.0) rotate(-45)" font-size="9.8" fill="#666" text-anchor="end" font-family="Liberation Sans">7 AM</text>
<text transform="translate(319.7,655.0) rotate(-45)" font-size="9.8" fill="#666" text-anchor="end" font-family="Liberation Sans">8 AM</text>
<text transform="translate(339.2,655.0) rotate(-45)" font-size="9.8" fill="#666" text-anchor="end" font-family="Liberation Sans">9 AM</text>
<text transform="translate(358.7,655.0) rotate(-45)" font-size="9.8" fill="#666" text-anchor="end" font-family="Liberation Sans">10 AM</text>
<text transform="translate(378.2,655.0) rotate(-45)" font-size="9.8" fill="#666" text-anchor="end" font-family="Liberation Sans">11 AM</text>
<text transform="translate(397.8,655.0) rotate(-45)" font-size="9.8" fill="#666" text-anchor="end" font-family="Liberation Sans">12 PM</text>
<text transform="translate(417.3,655.0) rotate(-45)" font-size="9.8" fill="#666" text-anchor="end" font-family="Liberation Sans">1 PM</text>
<text transform="translate(436.8,655.0) rotate(-45)" font-size="9.8" fill="#666" text-anchor="end" font-family="Liberation Sans">2 PM</text>
<text transform="translate(456.3,655.0) rotate(-45)" font-size="9.8" fill="#666" text-anchor="end" font-family="Liberation Sans">3 PM</text>
<text transform="translate(475.9,655.0) rotate(-45)" font-size="9.8" fill="#666" text-anchor="end" font-family="Liberation Sans">4 PM</text>
<text transform="translate(495.4,655.0) rotate(-45)" font-size="9.8" fill="#666" text-anchor="end" font-family="Liberation Sans">5 PM</text>
<text transform="translate(514.9,655.0) rotate(-45)" font-size="9.8" fill="#666" text-anchor="end" font-family="Liberation Sans">6 PM</text>
<text transform="translate(534.4,655.0) rotate(-45)" font-size="9.8" fill="#666" text-anchor="end" font-family="Liberation Sans">7 PM</text>
</svg>

<div id="cc" class="abs">
 <div class="top"><div style="position:absolute;left:0;width:164px;top:5.7px;font-size:12px;line-height:12px">Current Conditions</div><div style="position:absolute;left:0;width:164px;top:22.7px;font-size:9.6px;line-height:9.6px">observed at</div><div style="position:absolute;left:0;width:164px;top:36.1px;font-size:12px;line-height:12px">Mar 17, 2020 7:00 PM (LT)</div></div>
 <div class="yel">85 AQI<br>Moderate<br>PM2.5</div>
 <div class="hm"><div style="text-align:center;font-weight:bold;font-size:9.5px;margin-bottom:3px">Health Message</div>The AQI is between 51 and 100. Air quality is acceptable; however, pollution in this range may pose a moderate health concern for a very small number of individuals. People who are unusually sensitive to ozone or particle pollution may experience respiratory symptoms.</div>
</div>
<div class="abs" style="left:263px;top:737px;width:13px;height:3px;background:#d0d0d0"></div>
<div class="abs" style="left:563px;top:733px;font-size:8.8px;color:#333;white-space:nowrap">Note: Values above 500 are considered</div>

</body></html>
